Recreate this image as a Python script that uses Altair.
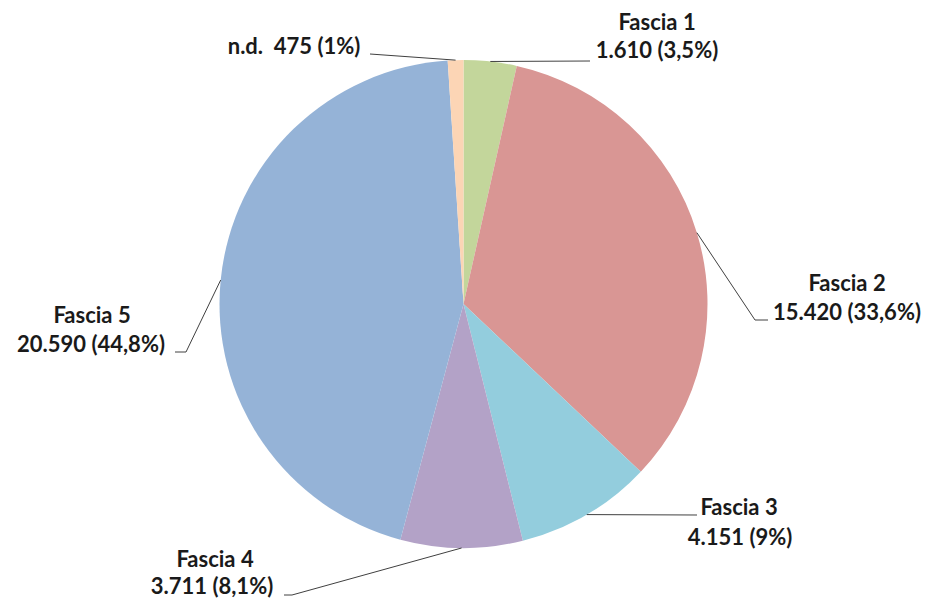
import math
import altair as alt
import pandas as pd

# ---- data ----
categories = ["Fascia 1", "Fascia 2", "Fascia 3", "Fascia 4", "Fascia 5", "n.d."]
values = [1610, 15420, 4151, 3711, 20590, 475]
value_texts = ["1.610 (3,5%)", "15.420 (33,6%)", "4.151 (9%)", "3.711 (8,1%)", "20.590 (44,8%)", "475 (1%)"]
colors = ["#C3D69B", "#D99694", "#93CDDD", "#B3A2C7", "#95B3D7", "#FCD5B5"]

# ---- layout (plot-area pixels) ----
W, H = 914, 591
CX, CY, R = 455.5, 296.0, 244
# label centres: (name line x, y, value line x, y); n.d. uses a single line
label_pos = [
    (649, 15, 649, 43),
    (839, 276, 839, 305),
    (731, 500, 732, 530),
    (207, 552, 204, 579),
    (84, 308, 83, 337),
    (286, 39, None, None),
]
# leader line bends / ends after the edge point
leader_pts = [
    [(582, 53)],
    [(747, 312), (760, 312)],
    [(689, 507)],
    [(284, 587), (276, 587)],
    [(178, 344), (167, 344)],
    [(362, 46)],
]

df = pd.DataFrame({"cat": categories, "value": values, "idx": list(range(len(values)))})

total = sum(values)
cum = 0
label_rows, line_rows = [], []
for i, (c, v, t) in enumerate(zip(categories, values, value_texts)):
    mid = (cum + v / 2) / total * 2 * math.pi
    cum += v
    ex = CX + R * math.sin(mid)
    ey = CY - R * math.cos(mid)
    pts = [(ex, ey)] + leader_pts[i]
    for k, (px, py) in enumerate(pts):
        line_rows.append({"cat": c, "k": k, "x": px, "y": py})
    nx, ny, vx, vy = label_pos[i]
    if vx is None:
        label_rows.append({"text": c + "\u00a0 " + t, "x": nx, "y": ny})
    else:
        label_rows.append({"text": c, "x": nx, "y": ny})
        label_rows.append({"text": t, "x": vx, "y": vy})

labels = pd.DataFrame(label_rows)
lines = pd.DataFrame(line_rows)

pie = alt.Chart(df).mark_arc(outerRadius=R).encode(
    theta=alt.Theta("value:Q", stack=True),
    order=alt.Order("idx:Q", sort="ascending"),
    color=alt.Color("cat:N", scale=alt.Scale(domain=categories, range=colors), legend=None),
    x=alt.value(CX),
    y=alt.value(CY),
)

leaders = alt.Chart(lines).mark_line(color="#404040", strokeWidth=1).encode(
    x=alt.X("x:Q", scale=None),
    y=alt.Y("y:Q", scale=None),
    detail="cat:N",
    order="k:Q",
)

text = alt.Chart(labels).mark_text(
    font="Lato", fontWeight="bold", fontSize=22, color="#1a1a1a",
    align="center", baseline="middle",
).encode(
    x=alt.X("x:Q", scale=None),
    y=alt.Y("y:Q", scale=None),
    text="text:N",
)

chart = alt.layer(pie, leaders, text).properties(
    width=W, height=H, padding=0, autosize=alt.AutoSizeParams(type="none")
).configure_view(stroke=None)

chart.save("out.html", embed_options={"renderer": "svg", "actions": False})
